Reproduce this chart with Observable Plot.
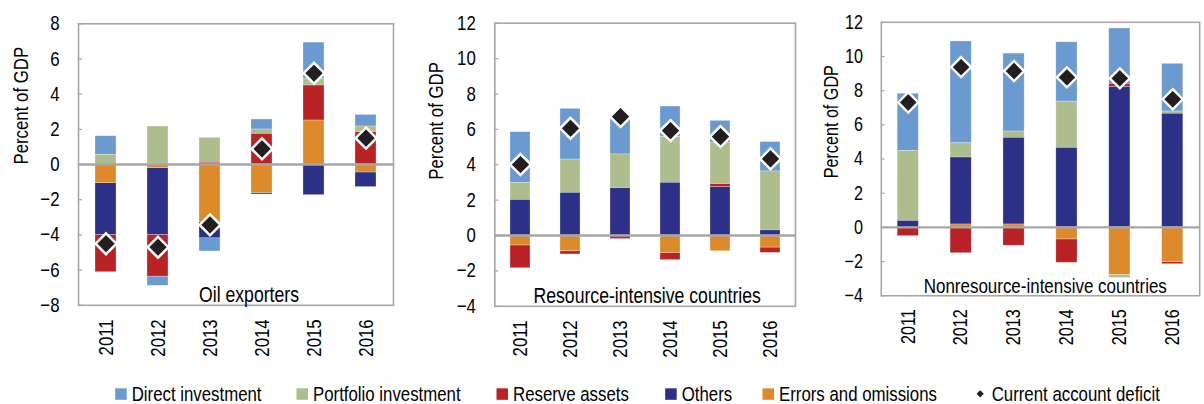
<!DOCTYPE html>
<html>
<head>
<meta charset="utf-8">
<script src="https://cdn.jsdelivr.net/npm/d3@7"></script>
<script src="https://cdn.jsdelivr.net/npm/@observablehq/plot@0.6"></script>
<style>
  html, body { margin: 0; padding: 0; background: #fff; overflow: hidden; }
  #page { position: relative; width: 1204px; height: 404px; overflow: hidden; }
  .panel { position: absolute; top: 0; }
  .panel svg { overflow: visible; }
</style>
</head>
<body>
<div id="page"></div>
<script>
// Financial account flows by component, percent of GDP
const years = ["2011", "2012", "2013", "2014", "2015", "2016"];
const seriesNames = ["Direct investment", "Portfolio investment", "Reserve assets", "Others", "Errors and omissions"];
const seriesColors = ["#6A9AD0", "#ADBD8E", "#BA2326", "#2C3087", "#DD8A2B"];
// stacking order away from zero
const stackOrder = ["Errors and omissions", "Others", "Reserve assets", "Portfolio investment", "Direct investment"];
const deficitLabel = "Current account deficit";

// Oil exporters
const oilDirect    = [1.06, -0.52, -0.75, 0.57, 2.06, 0.66];
const oilPortfolio = [0.55, 2.16, 1.42, 0.25, 0.38, 0.32];
const oilReserve   = [-2.12, -2.37, 0.10, 1.74, 1.99, 1.84];
const oilOthers    = [-2.94, -3.80, -0.91, -0.09, -1.74, -0.83];
const oilErrors    = [-1.06, -0.20, -3.28, -1.61, 2.50, -0.45];
const oilDeficit   = [-4.50, -4.70, -3.43, 0.89, 5.19, 1.50];

// Resource-intensive countries
const resDirect    = [2.86, 2.87, 2.02, 1.73, 1.26, 1.66];
const resPortfolio = [0.97, 1.88, 1.91, 2.58, 2.32, 3.33];
const resReserve   = [-1.29, -0.18, -0.20, -0.41, 0.17, -0.30];
const resOthers    = [2.01, 2.41, 2.67, 2.98, 2.73, 0.29];
const resErrors    = [-0.56, -0.89, 0.00, -0.98, -0.89, -0.68];
const resDeficit   = [4.01, 6.06, 6.72, 5.93, 5.59, 4.33];

// Nonresource-intensive countries
const nonDirect    = [3.34, 5.96, 4.56, 3.47, 3.24, 2.79];
const nonPortfolio = [4.10, 0.83, 0.37, 2.71, -0.19, 0.13];
const nonReserve   = [-0.51, -1.51, -1.07, -1.37, 0.19, -0.13];
const nonOthers    = [0.38, 3.92, 5.07, 4.65, 8.21, 6.65];
const nonErrors    = [0.00, 0.17, 0.17, -0.70, -2.77, -2.02];
const nonDeficit   = [7.31, 9.38, 9.15, 8.78, 8.72, 7.50];

const yTicksOil = [-8, -6, -4, -2, 0, 2, 4, 6, 8];
const yTicksRes = [-4, -2, 0, 2, 4, 6, 8, 10, 12];

const FONT = '"Liberation Sans", Arial, sans-serif';
const NARROW = 0.82; // horizontal squeeze giving a narrow face from the regular one
const GRAY = "#A6A6A6";

function toRows(components) {
  const rows = [];
  components.forEach((values, i) => {
    values.forEach((v, j) => rows.push({year: years[j], series: seriesNames[i], value: v}));
  });
  return rows;
}

function drawPanel(cfg) {
  const height = 370;
  const rows = toRows(cfg.components);
  const deficit = cfg.deficit.map((v, j) => ({year: years[j], value: v}));
  const innerWidth = cfg.width - cfg.marginLeft - cfg.marginRight;
  const chart = Plot.plot({
    width: cfg.width,
    height,
    marginLeft: cfg.marginLeft,
    marginRight: cfg.marginRight,
    marginTop: cfg.marginTop,
    marginBottom: height - cfg.bottom,
    style: {fontFamily: FONT, fontSize: "20.5px", color: "#000", background: "transparent"},
    x: {domain: years, paddingInner: 0.6, paddingOuter: 0.3},
    y: {domain: cfg.yDomain},
    color: {domain: seriesNames, range: seriesColors},
    marks: [
      Plot.frame({stroke: GRAY, strokeWidth: 1.6}),
      Plot.ruleY(cfg.yTicks, {y: d => d, stroke: GRAY, strokeWidth: 1.2, insetRight: innerWidth - 4}),
      Plot.barY(rows, Plot.stackY({
        x: "year", y: "value", fill: "series", z: "series", order: stackOrder,
        stroke: "#fff", strokeOpacity: 0.45, strokeWidth: 0.6
      })),
      Plot.ruleY([0], {stroke: GRAY, strokeWidth: 2.5}),
      Plot.dot(deficit, {x: "year", y: "value", symbol: "diamond2", r: 9.4,
        fill: "#231F20", stroke: "#fff", strokeWidth: 2.5}),
      Plot.axisY({ticks: cfg.yTicks, tickSize: 0, tickPadding: 19, label: null}),
      Plot.axisX({tickRotate: -90, tickSize: 0, tickPadding: 14, label: null}),
      Plot.text([cfg.title], {frameAnchor: "bottom", lineAnchor: "bottom", dy: -3, dx: cfg.titleDx, fontSize: 21.5}),
      Plot.text(["Percent of GDP"], {frameAnchor: "left", rotate: -90, dx: cfg.labelDx, dy: cfg.labelDy})
    ]
  });
  const div = document.createElement("div");
  div.className = "panel";
  div.style.left = cfg.left + "px";
  div.appendChild(chart);
  document.getElementById("page").appendChild(div);
}

drawPanel({
  title: "Oil exporters",
  components: [oilDirect, oilPortfolio, oilReserve, oilOthers, oilErrors],
  deficit: oilDeficit,
  yDomain: [-8, 8], yTicks: yTicksOil,
  left: 0, width: 400, marginLeft: 78, marginRight: 7, marginTop: 23.3, bottom: 304.8,
  titleDx: 13, labelDx: -57, labelDy: 0
});
drawPanel({
  title: "Resource-intensive countries",
  components: [resDirect, resPortfolio, resReserve, resOthers, resErrors],
  deficit: resDeficit,
  yDomain: [-4, 12], yTicks: yTicksRes,
  left: 410, width: 390, marginLeft: 84.3, marginRight: 5, marginTop: 22.7, bottom: 305.8,
  titleDx: 2, labelDx: -58, labelDy: 15
});
drawPanel({
  title: "Nonresource-intensive countries",
  components: [nonDirect, nonPortfolio, nonReserve, nonOthers, nonErrors],
  deficit: nonDeficit,
  yDomain: [-4, 12], yTicks: yTicksRes,
  left: 800, width: 420, marginLeft: 84, marginRight: 5, marginTop: 22.7, bottom: 307,
  titleDx: 5, labelDx: -51.5, labelDy: 20
});

// Legend below the panels
(function drawLegend() {
  const ns = "http://www.w3.org/2000/svg";
  const svg = document.createElementNS(ns, "svg");
  svg.setAttribute("width", 1204);
  svg.setAttribute("height", 34);
  svg.style.position = "absolute";
  svg.style.left = "0px";
  svg.style.top = "370px";
  svg.style.fontFamily = FONT;
  svg.style.fontSize = "20.5px";
  const textX = [131.7, 313, 513, 681.7, 779, 991.7];
  const baseline = 30.8;
  const labels = seriesNames.concat([deficitLabel]);
  labels.forEach((name, i) => {
    const x = textX[i];
    if (i < seriesNames.length) {
      const r = document.createElementNS(ns, "rect");
      r.setAttribute("x", x - 16.5);
      r.setAttribute("y", baseline - 12.5);
      r.setAttribute("width", 11.5);
      r.setAttribute("height", 11.5);
      r.setAttribute("fill", seriesColors[i]);
      svg.appendChild(r);
    } else {
      const p = document.createElementNS(ns, "path");
      const cx = x - 11.5, cy = baseline - 7;
      p.setAttribute("d", `M${cx},${cy - 3.6}L${cx + 3.6},${cy}L${cx},${cy + 3.6}L${cx - 3.6},${cy}Z`);
      p.setAttribute("fill", "#231F20");
      svg.appendChild(p);
    }
    const t = document.createElementNS(ns, "text");
    t.setAttribute("x", x);
    t.setAttribute("y", baseline);
    t.setAttribute("fill", "#000");
    t.textContent = name;
    svg.appendChild(t);
  });
  document.getElementById("page").appendChild(svg);
})();

// Squeeze every label along its own direction so the regular face reads as a narrow one
document.querySelectorAll("#page text").forEach((t) => {
  const len = t.getComputedTextLength();
  if (len > 0) {
    t.setAttribute("textLength", (len * NARROW).toFixed(2));
    t.setAttribute("lengthAdjust", "spacingAndGlyphs");
  }
});
</script>
</body>
</html>
